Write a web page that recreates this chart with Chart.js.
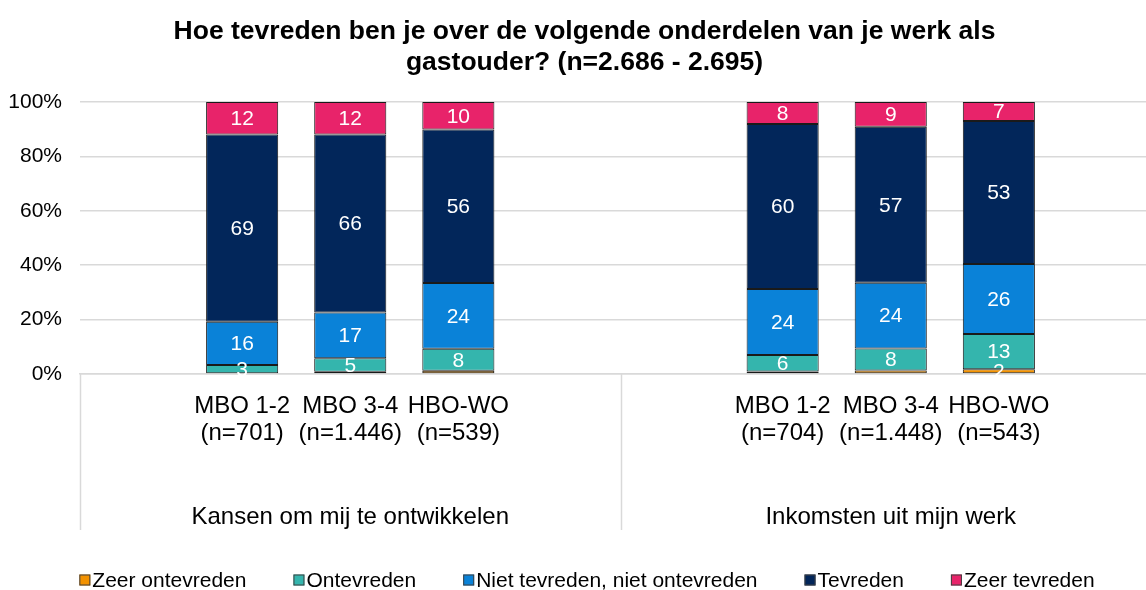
<!DOCTYPE html>
<html>
<head>
<meta charset="utf-8">
<script src="https://cdn.jsdelivr.net/npm/chart.js@4.4.0/dist/chart.umd.min.js"></script>
<style>
  html, body { margin: 0; padding: 0; background: #fff; overflow: hidden; }
  #wrap { position: relative; width: 1170px; height: 590px; }
</style>
</head>
<body>
<div id="wrap"><canvas id="chart"></canvas></div>
<script>
// --- data (10 slots: empty, 3 bars, 2 empty, 3 bars, empty) ---
const categories = [
  '',
  ['MBO 1-2', '(n=701)'], ['MBO 3-4', '(n=1.446)'], ['HBO-WO', '(n=539)'],
  '', '',
  ['MBO 1-2', '(n=704)'], ['MBO 3-4', '(n=1.448)'], ['HBO-WO', '(n=543)'],
  ''
];
const groupLabels = ['Kansen om mij te ontwikkelen', 'Inkomsten uit mijn werk'];

const seriesNames = ['Zeer ontevreden', 'Ontevreden', 'Niet tevreden, niet ontevreden', 'Tevreden', 'Zeer tevreden'];
const seriesColors = ['#F39200', '#34B5AD', '#0A82D8', '#02265A', '#E8236A'];

const zeerOntevreden = [null, 0.3, 0.8, 1.2, null, null, 0.9, 1.3, 1.8, null];
const ontevreden     = [null, 3, 5, 8, null, null, 6, 8, 13, null];
const neutraal       = [null, 16, 17, 24, null, null, 24, 24, 26, null];
const tevreden       = [null, 69, 66, 56, null, null, 60, 57, 53, null];
const zeerTevreden   = [null, 12, 12, 10, null, null, 8, 9, 7, null];

const series = [zeerOntevreden, ontevreden, neutraal, tevreden, zeerTevreden];

// 100% stacked: share of each slot total
const totals = categories.map((_, i) => series.reduce((s, arr) => s + (arr[i] || 0), 0));
const shares = series.map(arr => arr.map((v, i) => v === null ? null : v / totals[i] * 100));

const FONT = 'Liberation Sans, Arial, sans-serif';

// white value labels in the middle of each segment
const segmentLabels = {
  id: 'segmentLabels',
  afterDatasetsDraw(chart) {
    const ctx = chart.ctx;
    ctx.save();
    ctx.font = '21px ' + FONT;
    ctx.fillStyle = '#ffffff';
    ctx.textAlign = 'center';
    ctx.textBaseline = 'middle';
    chart.data.datasets.forEach((ds, di) => {
      const meta = chart.getDatasetMeta(di);
      meta.data.forEach((bar, i) => {
        const v = series[di][i];
        if (v === null || Math.round(v) < 2) return;
        ctx.fillText(String(Math.round(v)), bar.x, (bar.y + bar.base) / 2 + 1);
      });
    });
    ctx.restore();
  }
};

// group separators and group titles under the category labels
const groupAxis = {
  id: 'groupAxis',
  afterDraw(chart) {
    const ctx = chart.ctx;
    const x = chart.scales.x;
    const top = chart.chartArea.bottom;
    ctx.save();
    ctx.strokeStyle = '#d9d9d9';
    ctx.lineWidth = 1.5;
    [-0.5, 4.5, 9.5].forEach(v => {
      const px = Math.round(x.getPixelForValue(v)) + 0.5;
      ctx.beginPath();
      ctx.moveTo(px, top);
      ctx.lineTo(px, top + 156);
      ctx.stroke();
    });
    ctx.font = '24px ' + FONT;
    ctx.fillStyle = '#000000';
    ctx.textAlign = 'center';
    ctx.textBaseline = 'middle';
    ctx.fillText(groupLabels[0], x.getPixelForValue(2), top + 143);
    ctx.fillText(groupLabels[1], x.getPixelForValue(7), top + 143);
    ctx.restore();
  }
};

// Excel-style legend: small square right against the text
const bottomLegend = {
  id: 'bottomLegend',
  afterDraw(chart) {
    const ctx = chart.ctx;
    const box = 11, gap = 2, spacing = 47, y = 580;
    ctx.save();
    ctx.font = '21px ' + FONT;
    const widths = seriesNames.map(t => box + gap + ctx.measureText(t).width);
    const total = widths.reduce((a, b) => a + b, 0) + spacing * (widths.length - 1);
    let x = 587 - total / 2;
    ctx.textBaseline = 'middle';
    ctx.textAlign = 'left';
    seriesNames.forEach((name, i) => {
      ctx.fillStyle = seriesColors[i];
      ctx.fillRect(x, y - box / 2, box, box);
      ctx.strokeStyle = '#404040';
      ctx.lineWidth = 1;
      ctx.strokeRect(x + 0.5, y - box / 2 + 0.5, box - 1, box - 1);
      ctx.fillStyle = '#000000';
      ctx.fillText(name, x + box + gap, y + 1);
      x += widths[i] + spacing;
    });
    ctx.restore();
  }
};

new Chart(document.getElementById('chart'), {
  type: 'bar',
  data: {
    labels: categories,
    datasets: shares.map((d, i) => ({
      label: seriesNames[i],
      data: d,
      backgroundColor: seriesColors[i],
      borderColor: '#1a1a1a',
      borderWidth: 1,
      borderSkipped: false,
      categoryPercentage: 1,
      barPercentage: 0.667
    }))
  },
  options: {
    responsive: true,
    maintainAspectRatio: false,
    animation: false,
    layout: { padding: { left: 8, right: 9, top: 4, bottom: 54 } },
    plugins: {
      title: {
        display: true,
        text: ['Hoe tevreden ben je over de volgende onderdelen van je werk als', 'gastouder? (n=2.686 - 2.695)'],
        color: '#000000',
        font: { family: FONT, size: 26.5, weight: 'bold', lineHeight: 1.17 },
        padding: { top: 12, bottom: 24 }
      },
      legend: { display: false },
      tooltip: { enabled: false }
    },
    scales: {
      x: {
        stacked: true,
        grid: { display: false },
        border: { color: '#d9d9d9', width: 1.5 },
        ticks: {
          color: '#000000',
          font: { family: FONT, size: 24, lineHeight: 1.125 },
          padding: 11,
          maxRotation: 0,
          autoSkip: false
        },
        afterFit(scale) { scale.height = 162; }
      },
      y: {
        stacked: true,
        min: 0,
        max: 100,
        border: { display: false },
        grid: { color: '#d9d9d9', lineWidth: 1.5, drawTicks: false },
        ticks: {
          stepSize: 20,
          color: '#000000',
          font: { family: FONT, size: 21 },
          padding: 18,
          callback: v => v + '%'
        },
        afterFit(scale) { scale.width = 72; }
      }
    }
  },
  plugins: [segmentLabels, groupAxis, bottomLegend]
});
</script>
</body>
</html>
